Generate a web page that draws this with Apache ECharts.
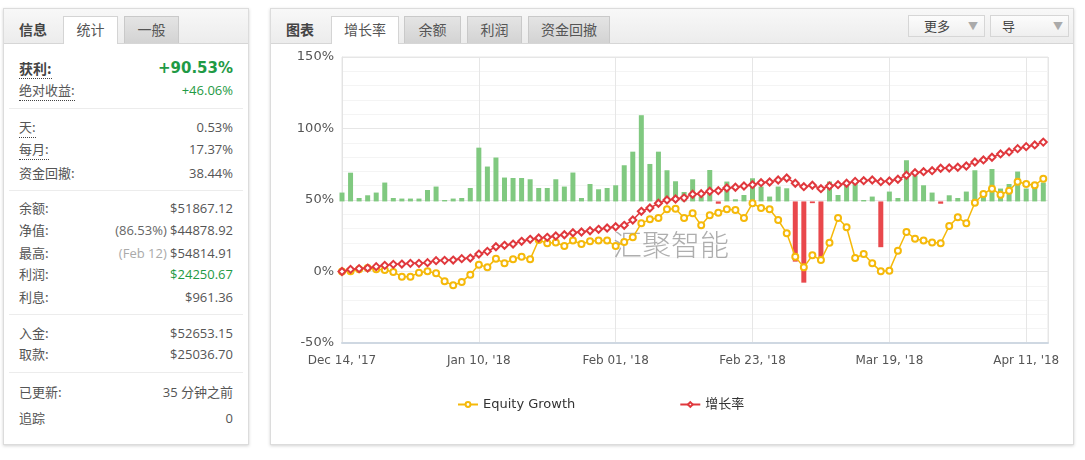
<!DOCTYPE html>
<html>
<head>
<meta charset="utf-8">
<script src="https://cdn.jsdelivr.net/npm/echarts@6/dist/echarts.min.js"></script>
<style>
  html,body{margin:0;padding:0;background:#fff;width:1085px;height:460px;overflow:hidden;}
  body{font-family:"Open Sans","Noto Sans CJK SC",sans-serif;font-size:13px;color:#555;}
  .panel{position:absolute;border:1px solid #dcdcdc;box-shadow:0 1px 3px rgba(0,0,0,0.18);background:#fff;box-sizing:border-box;}
  .hdr{position:absolute;left:0;top:0;right:0;height:34px;background:linear-gradient(#f8f8f8,#ececec);border-bottom:1px solid #d6d6d6;}
  .ttl{position:absolute;top:10px;font-weight:bold;font-size:14px;color:#444;font-family:"Noto Sans CJK SC",sans-serif;}
  .tab{position:absolute;top:7px;height:27px;box-sizing:border-box;border:1px solid #d4d4d4;border-bottom:none;text-align:center;line-height:25px;font-size:14px;color:#555;font-family:"Noto Sans CJK SC",sans-serif;}
  .tab.on{background:#fff;height:28px;}
  .tab.off{background:linear-gradient(#e4e4e4,#d3d3d3);border-color:#c9c9c9;}
  .row{position:absolute;left:15px;right:15px;height:18px;line-height:18px;}
  .row .l{position:absolute;left:0;font-family:"Noto Sans CJK SC",sans-serif;}
  .row .v{position:absolute;right:0;}
  .dot{border-bottom:1px dotted #444;padding-bottom:1px;}
  .g{color:#1f9a45;}
  .div{position:absolute;left:5px;right:5px;height:1px;background:#ececec;}
  .dd{position:absolute;top:6px;height:22px;box-sizing:border-box;border:1px solid #d6d6d6;background:linear-gradient(#fcfcfc,#efefef);font-family:"Noto Sans CJK SC",sans-serif;font-size:13px;color:#444;line-height:20px;}
  .dd .a{position:absolute;top:0;color:#aaa;font-size:10px;}
  #chart{position:absolute;left:0;top:0;width:1085px;height:460px;}
</style>
</head>
<body>
<!-- left info panel -->
<div class="panel" style="left:3px;top:8px;width:246px;height:437px;">
  <div class="hdr">
    <div class="ttl" style="left:15px;">信息</div>
    <div class="tab on" style="left:59px;width:55px;">统计</div>
    <div class="tab off" style="left:120px;width:55px;">一般</div>
  </div>
  <div class="row" style="top:50px;"><span class="l dot" style="font-weight:bold;color:#444;font-size:14px;">获利:</span><span class="v g" style="font-family:'DejaVu Sans';font-weight:bold;font-size:15px;">+90.53%</span></div>
  <div class="row" style="top:72px;"><span class="l dot">绝对收益:</span><span class="v g">+46.06%</span></div>
  <div class="div" style="top:99px;"></div>
  <div class="row" style="top:109px;"><span class="l dot">天:</span><span class="v">0.53%</span></div>
  <div class="row" style="top:131px;"><span class="l dot">每月:</span><span class="v">17.37%</span></div>
  <div class="row" style="top:155px;"><span class="l">资金回撤:</span><span class="v">38.44%</span></div>
  <div class="div" style="top:181px;"></div>
  <div class="row" style="top:190px;"><span class="l">余额:</span><span class="v">$51867.12</span></div>
  <div class="row" style="top:212px;"><span class="l">净值:</span><span class="v"><span style="color:#666">(86.53%)</span> $44878.92</span></div>
  <div class="row" style="top:235px;"><span class="l">最高:</span><span class="v"><span style="color:#aaa">(Feb 12)</span> $54814.91</span></div>
  <div class="row" style="top:256px;"><span class="l">利润:</span><span class="v g">$24250.67</span></div>
  <div class="row" style="top:279px;"><span class="l">利息:</span><span class="v">$961.36</span></div>
  <div class="div" style="top:305px;"></div>
  <div class="row" style="top:315px;"><span class="l">入金:</span><span class="v">$52653.15</span></div>
  <div class="row" style="top:336px;"><span class="l">取款:</span><span class="v">$25036.70</span></div>
  <div class="div" style="top:363px;"></div>
  <div class="row" style="top:374px;"><span class="l">已更新:</span><span class="v">35 分钟之前</span></div>
  <div class="row" style="top:400px;"><span class="l">追踪</span><span class="v">0</span></div>
</div>
<!-- right chart panel -->
<div class="panel" style="left:270px;top:8px;width:804px;height:437px;">
  <div class="hdr">
    <div class="ttl" style="left:15px;">图表</div>
    <div class="tab on" style="left:60px;width:68px;">增长率</div>
    <div class="tab off" style="left:133px;width:57px;">余额</div>
    <div class="tab off" style="left:196px;width:55px;">利润</div>
    <div class="tab off" style="left:257px;width:82px;">资金回撤</div>
    <div class="dd" style="left:637px;width:77px;"><span style="position:absolute;left:15px;">更多</span><span class="a" style="left:59px;">&#9660;</span></div>
    <div class="dd" style="left:719px;width:79px;"><span style="position:absolute;left:11px;">导</span><span class="a" style="left:62px;">&#9660;</span></div>
  </div>
</div>
<div id="chart"></div>
<script>
// x tick labels (every 16 trading days)
const xTickLabels = ["Dec 14, '17", "Jan 10, '18", "Feb 01, '18", "Feb 23, '18", "Mar 19, '18", "Apr 11, '18"];
const tickStep = 16;
const legendNames = ['Equity Growth', '增长率'];
// Equity Growth (%)
const equityGrowth = [
  0, 0.2, 1.5, 2.4, 1.5, 1.0, -0.3, -3.6, -3.6, -0.8,
  0.1, -1.3, -6.9, -9.7, -7.3, -2.2, 4.8, 2.9, 9.0, 5.7,
  8.5, 10.4, 8.5, 22.0, 19.7, 20.2, 17.8, 21.6, 19.2, 21.1,
  21.6, 21.6, 17.8, 20.6, 23.9, 33.7, 36.5, 37.4, 43.5, 43.9,
  37.4, 40.7, 32.3, 39.3, 41.1, 43.5, 43.0, 37.4, 47.7, 44.4,
  43.5, 36.0, 26.7, 10.4, 2.9, 11.3, 8.0, 20.1, 37.4, 30.9,
  9.4, 12.2, 5.7, 0.1, 0.6, 14.5, 27.6, 22.9, 21.6, 20.2,
  19.7, 31.8, 37.9, 33.7, 48.1, 54.2, 57.9, 53.7, 56.5, 62.8,
  61.2, 60.3, 64.9
];
// 增长率 (%)
const growthRate = [
  0, 1.5, 2.0, 2.4, 3.4, 4.3, 5.0, 5.2, 5.7, 5.7,
  6.2, 7.6, 7.8, 8.0, 9.0, 9.4, 12.2, 14.1, 17.3, 18.3,
  19.2, 21.1, 22.5, 23.4, 23.9, 24.8, 25.7, 27.1, 27.6, 28.5,
  29.5, 30.4, 31.3, 32.3, 36.0, 42.1, 44.4, 47.7, 50.0, 50.7,
  51.5, 54.0, 54.4, 56.1, 56.5, 58.4, 58.9, 59.8, 60.7, 62.1,
  62.6, 64.0, 65.4, 61.7, 59.3, 60.3, 57.9, 59.8, 60.7, 61.7,
  63.0, 63.5, 64.0, 62.8, 63.3, 64.5, 67.3, 69.1, 69.8, 70.5,
  72.2, 72.4, 72.9, 73.8, 76.6, 78.0, 79.9, 82.2, 83.6, 85.9,
  87.3, 88.5, 90.5
];
// daily change bars (secondary scale)
const dailyChange = [
  6.2, 20.1, 2.4, 4.3, 6.2, 13.2, 2.4, 2.0, 2.0, 2.0,
  8.0, 10.4, 1.0, 2.0, 2.4, 9.4, 37.6, 24.4, 30.7, 16.7,
  16.4, 16.4, 15.5, 9.4, 9.4, 15.5, 10.4, 20.2, 2.4, 12.2,
  8.5, 9.4, 11.3, 25.3, 34.8, 60.3, 26.2, 34.8, 21.8, 14.1,
  6.6, 15.5, 3.4, 22.0, -1.6, 13.9, 1.5, 4.5, 16.2, 10.4,
  3.4, 10.4, 9.2, -42.1, -56.8, -1.2, -42.1, 13.9, 4.5, 12.7,
  13.0, 1.0, 3.4, -32.0, 6.9, 2.4, 28.8, 18.1, 11.3, 6.2,
  -1.6, 4.3, 2.4, 6.9, 21.8, 4.5, 22.7, 9.0, 12.2, 20.9,
  9.0, 10.4, 13.2
];

const YELLOW = '#f5b90a', RED = '#e0383d', GREEN = '#80c980', BARRED = '#e9484c';
const chart = echarts.init(document.getElementById('chart'), null, {renderer: 'canvas'});
chart.setOption({
  backgroundColor: 'transparent',
  animation: false,
  grid: {left: 342, top: 57, width: 706, height: 286, show: true, borderColor: '#e6e6e6', borderWidth: 1},
  legend: {
    data: legendNames, left: 452, top: 393, itemWidth: 20, itemHeight: 6, itemGap: 104,
    textStyle: {color: '#333', fontSize: 13, fontFamily: "'DejaVu Sans','Noto Sans CJK SC'"}
  },
  graphic: [{
    type: 'text', left: 613, top: 230, z: 1, silent: true,
    style: {text: '汇聚智能', fontSize: 29, fontFamily: "'Noto Sans CJK SC'", fontWeight: 300, fill: 'rgba(140,140,140,0.7)'}
  }],
  xAxis: {
    type: 'value', min: 0, max: 82.55, interval: tickStep,
    axisLine: {show: true, onZero: false, lineStyle: {color: '#cfd8e2', width: 2}},
    axisTick: {show: false},
    axisLabel: {
      color: '#555', fontSize: 12, fontFamily: 'DejaVu Sans', margin: 12, showMaxLabel: false,
      formatter: v => { const k = v / tickStep; return Number.isInteger(k) && xTickLabels[k] ? xTickLabels[k] : ''; }
    },
    splitLine: {show: true, lineStyle: {color: '#e6e6e6'}}
  },
  yAxis: [{
    type: 'value', min: -50, max: 150, interval: 50,
    axisLine: {show: true, lineStyle: {color: '#e3e3e3'}},
    axisTick: {show: false},
    axisLabel: {formatter: '{value}%', color: '#555', fontSize: 13, fontFamily: 'DejaVu Sans', margin: 8},
    splitLine: {show: true, lineStyle: {color: '#e6e6e6'}},
    minorTick: {show: false, splitNumber: 5},
    minorSplitLine: {show: true, lineStyle: {color: '#f4f4f4'}}
  }, {
    type: 'value', min: -99, max: 101, show: false, splitLine: {show: false}
  }],
  series: [{
    name: 'daily', type: 'bar', xAxisIndex: 0, yAxisIndex: 1, barWidth: 5, z: 1, clip: true,
    data: dailyChange.map((v, i) => [i, v]),
    itemStyle: {color: p => (p.value[1] >= 0 ? GREEN : BARRED)}
  }, {
    name: legendNames[0], type: 'line', yAxisIndex: 0, z: 3,
    data: equityGrowth.map((v, i) => [i, v]),
    symbol: 'emptyCircle', symbolSize: 6,
    lineStyle: {color: YELLOW, width: 1.5},
    itemStyle: {color: YELLOW, borderWidth: 1.6}
  }, {
    name: legendNames[1], type: 'line', yAxisIndex: 0, z: 4,
    data: growthRate.map((v, i) => [i, v]),
    symbol: 'emptyDiamond', symbolSize: 7,
    lineStyle: {color: RED, width: 1.5},
    itemStyle: {color: RED, borderWidth: 1.6}
  }]
});
</script>
</body>
</html>
